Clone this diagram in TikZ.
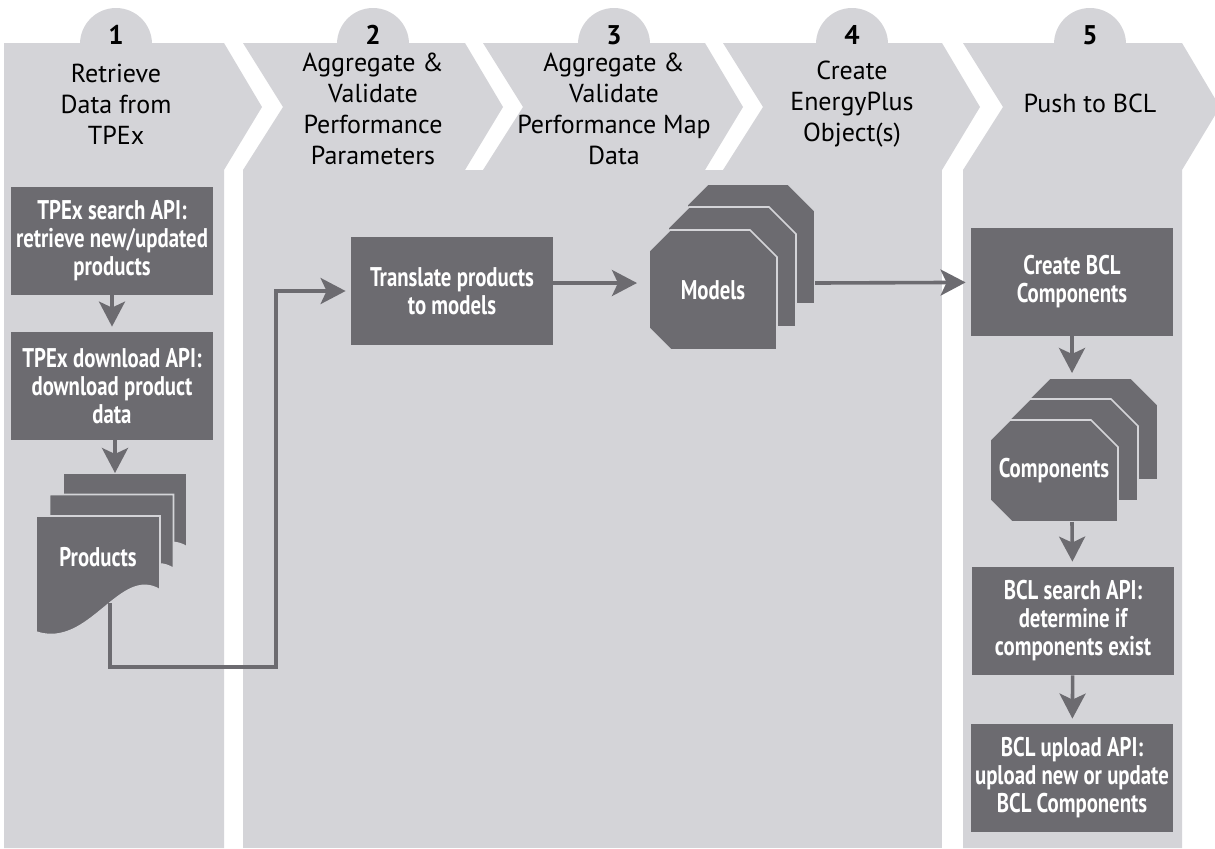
\documentclass[tikz,border=0pt]{standalone}
\usepackage{fontspec}
\setmainfont{PT Sans}
\newfontfamily\boxfont[FakeStretch=0.77]{PT Sans}
\usetikzlibrary{arrows.meta}

\definecolor{panel}{RGB}{212,212,216}
\definecolor{boxgray}{RGB}{108,107,112}

\tikzset{
  stepbox/.style={rectangle, fill=boxgray, text=white, align=center,
    font=\boxfont\bfseries\fontsize{13.5}{14}\selectfont,
    minimum width=101pt, minimum height=54pt, inner sep=0pt},
  sheettext/.style={text=white, font=\boxfont\bfseries\fontsize{13.5}{14}\selectfont},
  head/.style={align=center, font=\fontsize{13}{15.5}\selectfont},
  num/.style={font=\bfseries\fontsize{13.5}{15}\selectfont},
  sheet/.style={fill=boxgray, draw=panel, line width=0.8pt},
  flow/.style={draw=boxgray, line width=1.8pt, shorten >=2.5pt,
    -{Stealth[length=12.5pt,width=13pt,inset=3pt]}},
}

\begin{document}
\begin{tikzpicture}[x=0.5pt,y=-0.5pt]
            \useasboundingbox (0,0) rectangle (1215,848);
            \clip (0,0) rectangle (1215,848);
            \fill[white] (0,0) rectangle (1215,848);

            % Columns
            \fill[panel] (4,43) -- (224,43) -- (262,107) -- (224,170) -- (224,848) -- (4,848) -- cycle;
            \fill[panel] (243,43) -- (465,43) -- (503,107) -- (465,170) -- (243,170) -- (283,107) -- cycle;
            \fill[panel] (483,43) -- (705,43) -- (743,107) -- (705,170) -- (483,170) -- (523,107) -- cycle;
            \fill[panel] (723,43) -- (942,43) -- (980,107) -- (942,170) -- (723,170) -- (763,107) -- cycle;
            \fill[panel] (243,170) rectangle (942,848);
            \fill[panel] (963,43) -- (1182,43) -- (1220,107) -- (1182,170) -- (1182,848) -- (963,848) -- (963,170) -- (1003,107) -- cycle;
            \foreach \cx in {116,373,614,852,1090}
              \fill[panel] (\cx,44) circle (18pt);

            % Headings
            \node (n1) [num] at (116,35) {1};
            \node (n2) [num] at (373,35) {2};
            \node (n3) [num] at (614,35) {3};
            \node (n4) [num] at (852,35) {4};
            \node (n5) [num] at (1090,35) {5};
            \node (h1) [head] at (116,104) {Retrieve\\Data from\\TPEx};
            \node (h2) [head] at (373,109) {Aggregate \&\\Validate\\Performance\\Parameters};
            \node (h3) [head] at (614,109) {Aggregate \&\\Validate\\Performance Map\\Data};
            \node (h4) [head] at (852,104) {Create\\EnergyPlus\\Object(s)};
            \node (h5) [head] at (1090,103) {Push to BCL};

            % Stacked sheets
            \foreach \dx/\dy in {27/-43, 13.5/-21.5, 0/0}
              \draw[sheet, shift={(\dx,\dy)}] (36,516) -- (160,516) -- (160,590)
                .. controls (120,565) and (90,650) .. (36,632) -- cycle;
            \foreach \dx/\dy in {38/-46, 19/-23, 0/0}
              \draw[sheet, shift={(\dx,\dy)}] (649,251) -- (670,230) -- (750,230) -- (777,257)
                -- (777,350) -- (671,350) -- (649,328) -- cycle;
            \foreach \dx/\dy in {40/-42, 20/-21, 0/0}
              \draw[sheet, shift={(\dx,\dy)}] (990,440) -- (1010,420) -- (1091,420) -- (1118,447)
                -- (1118,522) -- (1012,522) -- (990,500) -- cycle;

            % Nodes
            \node (tsearch) [stepbox] at (112,241) {TPEx search API:\\retrieve new/updated\\products};
            \node (tdown) [stepbox] at (112,386) {TPEx download API:\\download product\\data};
            \node (prod) [sheettext] at (98,557) {Products};
            \node (trans) [stepbox] at (452,291) {Translate products\\to models};
            \node (models) [sheettext] at (713,290) {Models};
            \node (create) [stepbox] at (1072,282) {Create BCL\\Components};
            \node (comps) [sheettext] at (1054,471) {Components};
            \node (bsearch) [stepbox] at (1073,621) {BCL search API:\\determine if\\components exist};
            \node (bupload) [stepbox] at (1072,778) {BCL upload API:\\upload new or update\\BCL Components};

            \coordinate (pin) at (115,478);
            \coordinate (pout) at (110,603);
            \coordinate (bend) at (276,667);
            \coordinate (min) at (642,283);
            \coordinate (mout) at (815,283);
            \coordinate (cin) at (1072,378);
            \coordinate (cout) at (1072,522);

            % Edges
            \draw[flow] (tsearch) -- (tdown);
            \draw[flow] (tdown.south -| pin) -- (pin);
            \draw[flow] (pout) |- (bend) |- (trans.west);
            \draw[flow] ([yshift=4pt]trans.east) -- (min);
            \draw[flow] (mout) -- (create);
            \draw[flow] (create) -- (cin);
            \draw[flow] (cout) -- (bsearch);
            \draw[flow] (bsearch) -- (bupload);

        \end{tikzpicture}
\end{document}
